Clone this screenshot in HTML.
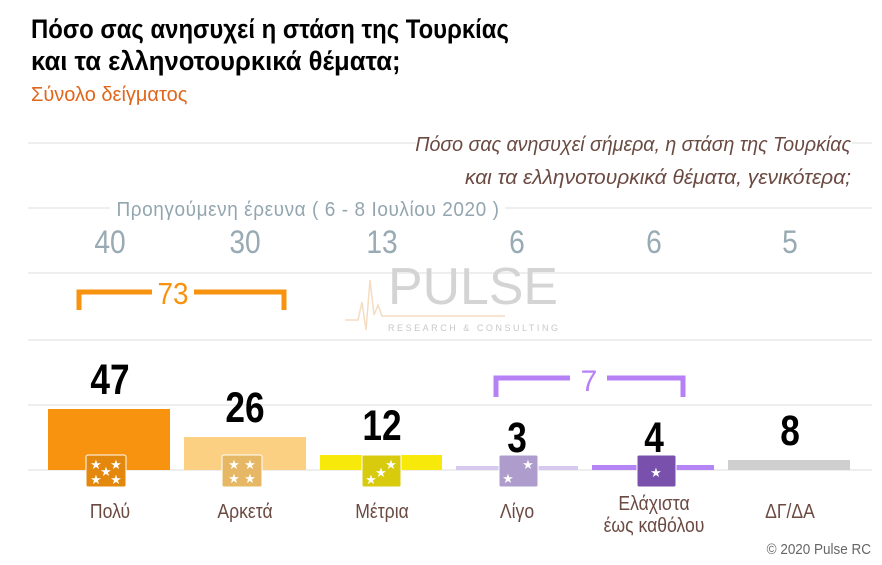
<!DOCTYPE html>
<html><head><meta charset="utf-8"><style>
html,body{margin:0;padding:0;background:#fff;}
svg{display:block;}
text{font-family:"Liberation Sans","DejaVu Sans",sans-serif;}
</style></head><body>
<svg width="882" height="565" viewBox="0 0 882 565" xmlns="http://www.w3.org/2000/svg">
<g stroke="#e8e8e8" stroke-width="1.5">
<line x1="28" y1="143" x2="416" y2="143"/><line x1="852" y1="143" x2="872" y2="143"/>
<line x1="28" y1="208" x2="110" y2="208"/><line x1="505" y1="208" x2="872" y2="208"/>
<line x1="28" y1="273" x2="872" y2="273"/>
<line x1="28" y1="340" x2="872" y2="340"/>
<line x1="28" y1="405" x2="872" y2="405"/>
<line x1="28" y1="470" x2="872" y2="470"/>
</g>
<g font-weight="bold" font-size="27" fill="#000">
<text transform="translate(31,38) scale(0.885,1)">Πόσο σας ανησυχεί η στάση της Τουρκίας</text>
<text transform="translate(31,70) scale(0.95,1)">και τα ελληνοτουρκικά θέματα;</text>
</g>
<text transform="translate(31,101) scale(1,1)" font-size="20" fill="#e0661c">Σύνολο δείγματος</text>
<g font-style="italic" font-size="20" fill="#6b4a42" text-anchor="end">
<text transform="translate(851,151) scale(0.98,1)">Πόσο σας ανησυχεί σήμερα, η στάση της Τουρκίας</text>
<text transform="translate(851,184) scale(1.05,1)">και τα ελληνοτουρκικά θέματα, γενικότερα;</text>
</g>
<text transform="translate(308,216) scale(0.95,1)" font-size="20" fill="#93a6b0" text-anchor="middle" letter-spacing="0.6">Προηγούμενη έρευνα ( 6 - 8 Ιουλίου 2020 )</text>
<g font-size="32" fill="#98aab3" text-anchor="middle">
<text transform="translate(110,253) scale(0.88,1)">40</text>
<text transform="translate(245,253) scale(0.88,1)">30</text>
<text transform="translate(382,253) scale(0.88,1)">13</text>
<text transform="translate(517,253) scale(0.88,1)">6</text>
<text transform="translate(654,253) scale(0.88,1)">6</text>
<text transform="translate(790,253) scale(0.88,1)">5</text>
</g>
<text x="388" y="304" font-size="52" fill="#d4d4d4" textLength="170" lengthAdjust="spacingAndGlyphs">PULSE</text>
<text x="388" y="331" font-size="9" fill="#c8c8c8" textLength="170" lengthAdjust="spacing">RESEARCH &amp; CONSULTING</text>
<polyline points="345,320 358,320 362,302 366,330 370,280 374,315 378,305 382,316 388,316 505,316" fill="none" stroke="#f5dcc0" stroke-width="1.5"/>
<g stroke="#f7930f" stroke-width="5" fill="none">
<path d="M79,310 V292 H152 M194,292 H284 V310"/>
</g>
<text transform="translate(173,304) scale(0.9,1)" font-size="31" fill="#f7930f" text-anchor="middle">73</text>
<g stroke="#b681f5" stroke-width="5" fill="none">
<path d="M496,397 V378 H570 M607,378 H683 V397"/>
</g>
<text x="589" y="391" font-size="30" fill="#b681f5" text-anchor="middle">7</text>
<rect x="48" y="409" width="122" height="61" fill="#f7930f"/>
<rect x="184" y="437" width="122" height="33" fill="#fcd083"/>
<rect x="320" y="455" width="122" height="15" fill="#f7ea0a"/>
<rect x="456" y="466" width="122" height="4" fill="#d6c8ef"/>
<rect x="592" y="465" width="122" height="5" fill="#b685f5"/>
<rect x="728" y="460" width="122" height="10" fill="#cfcfcf"/>
<rect x="86" y="455" width="40" height="32" rx="2" fill="#e3880c" stroke="#fff" stroke-width="1"/>
<rect x="222" y="455" width="40" height="32" rx="2" fill="#e6b866" stroke="#fff"/>
<rect x="362" y="455" width="39" height="32" rx="2" fill="#d8cb0d" stroke="#fff"/>
<rect x="499" y="455" width="39" height="32" rx="2" fill="#ad9ccc" stroke="#fff"/>
<rect x="637" y="455" width="39" height="32" rx="2" fill="#7a50ad" stroke="#fff"/>
<g fill="#fff" font-size="13" text-anchor="middle">
<text x="96" y="469">★</text><text x="116" y="469">★</text><text x="106" y="476">★</text><text x="96" y="484">★</text><text x="116" y="484">★</text>
<text x="234" y="469">★</text><text x="250" y="469">★</text><text x="234" y="483">★</text><text x="250" y="483">★</text>
<text x="371" y="484">★</text><text x="381" y="477">★</text><text x="391" y="469">★</text>
<text x="508" y="483">★</text><text x="528" y="469">★</text>
<text x="656" y="477">★</text>
</g>
<g font-weight="bold" font-size="43" fill="#000" text-anchor="middle">
<text transform="translate(110,394) scale(0.82,1)">47</text>
<text transform="translate(245,422) scale(0.82,1)">26</text>
<text transform="translate(382,440) scale(0.82,1)">12</text>
<text transform="translate(517,452) scale(0.82,1)">3</text>
<text transform="translate(654,452) scale(0.82,1)">4</text>
<text transform="translate(790,445) scale(0.82,1)">8</text>
</g>
<g font-size="20" fill="#6b4a42" text-anchor="middle">
<text transform="translate(110,518) scale(0.88,1)">Πολύ</text>
<text transform="translate(245,518) scale(0.88,1)">Αρκετά</text>
<text transform="translate(382,518) scale(0.88,1)">Μέτρια</text>
<text transform="translate(517,518) scale(0.88,1)">Λίγο</text>
<text transform="translate(654,510) scale(0.88,1)">Ελάχιστα</text>
<text transform="translate(654,532) scale(0.88,1)">έως καθόλου</text>
<text transform="translate(790,518) scale(0.88,1)">ΔΓ/ΔΑ</text>
</g>
<text transform="translate(871,554) scale(0.9,1)" font-size="15" fill="#666" text-anchor="end">© 2020 Pulse RC</text>
</svg>
</body></html>
